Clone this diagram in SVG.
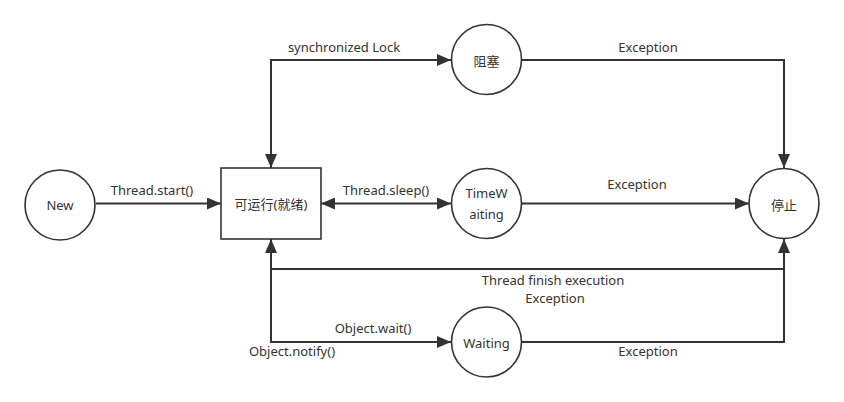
<svg xmlns="http://www.w3.org/2000/svg" width="844" height="402" viewBox="0 0 844 402">
<style>
.n{fill:#fff;stroke:#333;stroke-width:1.6}
.e{fill:none;stroke:#333;stroke-width:2}
.t{font-family:"Noto Sans","Noto Sans CJK SC",sans-serif;font-size:13px;fill:#333;text-anchor:middle;dominant-baseline:central}
</style>
<defs>
<marker id="a" markerUnits="userSpaceOnUse" markerWidth="16" markerHeight="12" refX="14" refY="6" orient="auto-start-reverse">
<path d="M0,0 L14,6 L0,12 Z" fill="#333"/>
</marker>
</defs>
<rect width="844" height="402" fill="#fff"/>
<g id="connectors">
<path class="e" d="M96,203.5 H221" marker-end="url(#a)"/>
<path class="e" d="M271,168 V60 H451" marker-start="url(#a)" marker-end="url(#a)"/>
<path class="e" d="M522,60 H784 V168" marker-end="url(#a)"/>
<path class="e" d="M321,203.5 H451" marker-start="url(#a)" marker-end="url(#a)"/>
<path class="e" d="M522,203.5 H749" marker-end="url(#a)"/>
<path class="e" d="M271,239 V342 H451" marker-start="url(#a)" marker-end="url(#a)"/>
<path class="e" d="M271,269 H784"/>
<path class="e" d="M522,342 H784 V239" marker-end="url(#a)"/>
<text class="t" x="152" y="190">Thread.start()</text>
<text class="t" x="344" y="47">synchronized Lock</text>
<text class="t" x="648" y="47">Exception</text>
<text class="t" x="386" y="190">Thread.sleep()</text>
<text class="t" x="637" y="184">Exception</text>
<text class="t" x="553" y="279.5">Thread finish execution</text>
<text class="t" x="555" y="297.5">Exception</text>
<text class="t" x="373" y="328">Object.wait()</text>
<text class="t" x="292" y="351">Object.notify()</text>
<text class="t" x="648" y="351">Exception</text>
</g>
<g id="new"><circle class="n" cx="60" cy="205" r="35"/><text class="t" x="60" y="205">New</text></g>
<g id="runnable"><rect class="n" x="221" y="168" width="100" height="71"/><text class="t" x="271" y="204">可运行(就绪)</text></g>
<g id="blocked"><circle class="n" cx="486.5" cy="59.5" r="35"/><text class="t" x="486.5" y="61">阻塞</text></g>
<g id="timedwaiting"><circle class="n" cx="486.5" cy="203.5" r="35"/><text class="t" x="486.5" y="193">TimeW</text><text class="t" x="486.5" y="214">aiting</text></g>
<g id="waiting"><circle class="n" cx="486.5" cy="342" r="35"/><text class="t" x="486.5" y="343">Waiting</text></g>
<g id="stop"><circle class="n" cx="784" cy="203.5" r="35"/><text class="t" x="784" y="205">停止</text></g>
</svg>
